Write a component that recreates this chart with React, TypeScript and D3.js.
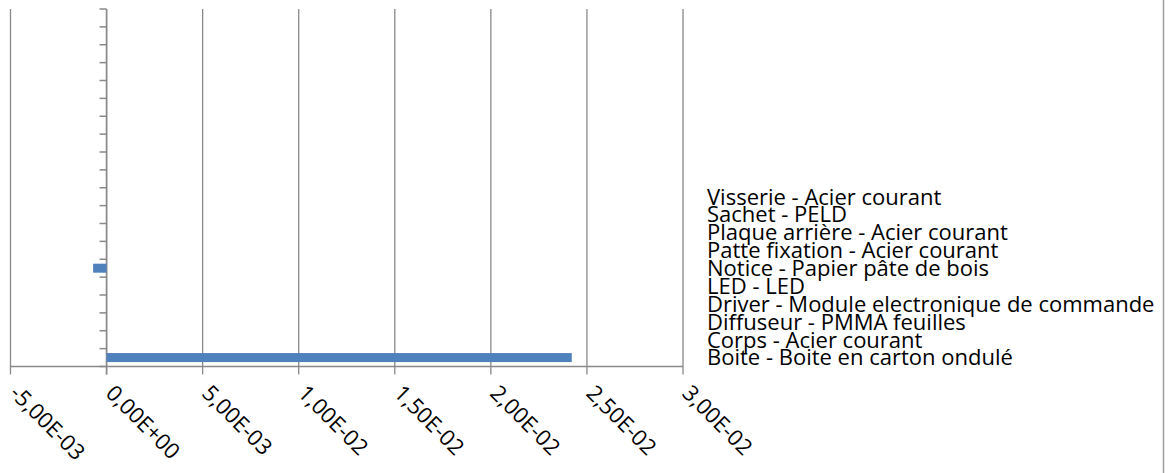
import React, { useEffect, useRef } from 'react';
import * as d3 from 'd3';

// 20 slots on the category axis, only the bottom 10 are named
const categories: string[] = [
  'Boite - Boite en carton ondulé',
  'Corps - Acier courant',
  'Diffuseur - PMMA feuilles',
  'Driver - Module electronique de commande',
  'LED - LED',
  'Notice - Papier pâte de bois',
  'Patte fixation - Acier courant',
  'Plaque arrière - Acier courant',
  'Sachet - PELD',
  'Visserie - Acier courant',
  '', '', '', '', '', '', '', '', '', '',
];
const values: number[] = [
  0.02421, 0, 0, 0, 0, -0.0007, 0, 0, 0, 0,
  0, 0, 0, 0, 0, 0, 0, 0, 0, 0,
];
const xTicks: number[] = [-0.005, 0, 0.005, 0.01, 0.015, 0.02, 0.025, 0.03];
const xTickLabels: string[] = [
  '-5,00E-03', '0,00E+00', '5,00E-03', '1,00E-02',
  '1,50E-02', '2,00E-02', '2,50E-02', '3,00E-02',
];

const W = 1168;
const H = 473;
const FONT = '"Open Sans", sans-serif';

export default function App() {
  const ref = useRef<SVGSVGElement>(null);

  useEffect(() => {
    const svg = d3.select(ref.current);
    svg.selectAll('*').remove();

    const left = 10.5, right = 683, top = 9, bottom = 366.5;
    const grey = '#898989';

    const x = d3.scaleLinear().domain([-0.005, 0.03]).range([left, right]);
    const y = d3.scaleBand<number>()
      .domain(d3.range(categories.length))
      .range([bottom, top]);

    // outer frame line on the right
    svg.append('line')
      .attr('x1', 1163.5).attr('x2', 1163.5).attr('y1', 0).attr('y2', H)
      .attr('stroke', '#a0a0a0').attr('stroke-width', 1.5);

    // vertical gridlines
    svg.append('g').selectAll('line').data(xTicks).join('line')
      .attr('x1', d => x(d)).attr('x2', d => x(d))
      .attr('y1', top).attr('y2', bottom + 8)
      .attr('stroke', grey).attr('stroke-width', 1.3);

    // x axis line
    svg.append('line')
      .attr('x1', left).attr('x2', right).attr('y1', bottom).attr('y2', bottom)
      .attr('stroke', grey).attr('stroke-width', 1.5);

    // y axis at zero with ticks at category boundaries
    const x0 = x(0);
    svg.append('line')
      .attr('x1', x0).attr('x2', x0).attr('y1', top).attr('y2', bottom + 8)
      .attr('stroke', grey).attr('stroke-width', 1.5);
    const bounds = d3.range(categories.length + 1).map(i => bottom - i * y.step());
    svg.append('g').selectAll('line').data(bounds).join('line')
      .attr('x1', x0 - 7).attr('x2', x0).attr('y1', d => d).attr('y2', d => d)
      .attr('stroke', grey).attr('stroke-width', 1.5);

    // bars
    const barH = 9;
    svg.append('g').selectAll('rect').data(values).join('rect')
      .attr('x', d => Math.min(x(d), x0))
      .attr('width', d => Math.abs(x(d) - x0))
      .attr('y', (d, i) => (y(i) as number) + y.bandwidth() / 2 - barH / 2)
      .attr('height', barH)
      .attr('fill', '#4f81bd');

    // category labels on the right
    svg.append('g').selectAll('text').data(categories).join('text')
      .attr('x', 707)
      .attr('y', (d, i) => (y(i) as number) + y.bandwidth() / 2)
      .attr('dy', '0.36em')
      .attr('font-family', FONT)
      .attr('font-size', 22)
      .attr('fill', '#000')
      .text(d => d);

    // rotated x tick labels
    svg.append('g').selectAll('text').data(xTicks).join('text')
      .attr('transform', d => `translate(${x(d) - 2},${bottom + 28}) rotate(45)`)
      .attr('font-family', FONT)
      .attr('font-size', 22)
      .attr('fill', '#000')
      .text((d, i) => xTickLabels[i]);
  }, []);

  return (
    <svg
      ref={ref}
      width={W}
      height={H}
      style={{ position: 'absolute', left: 0, top: 0, background: '#fff' }}
    />
  );
}
